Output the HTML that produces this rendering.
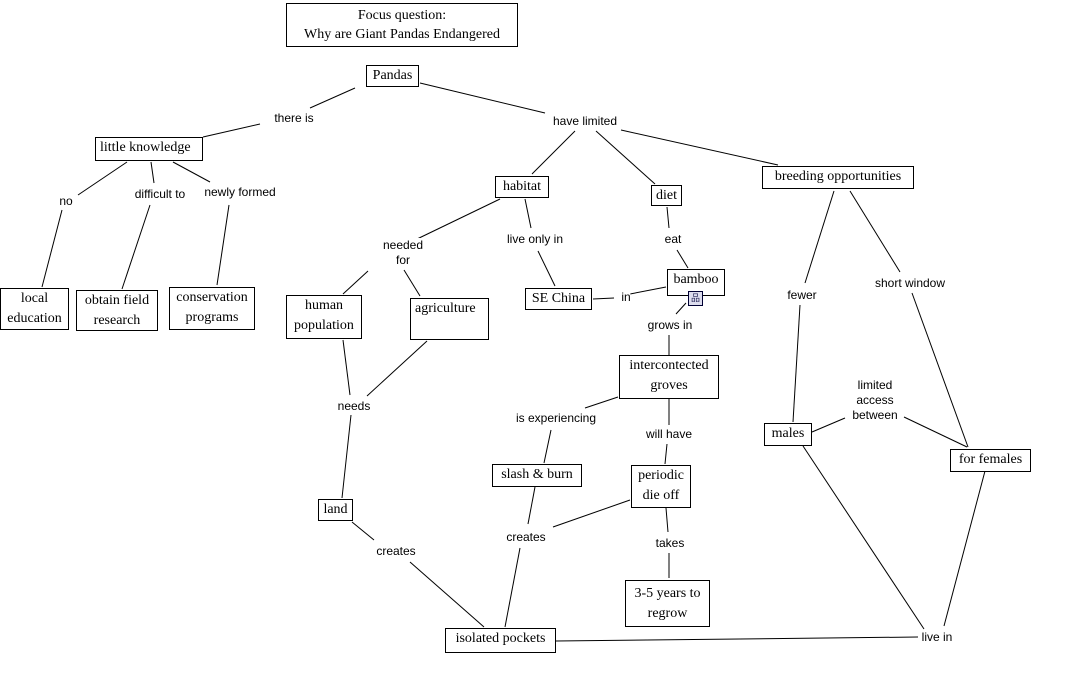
<!DOCTYPE html>
<html><head><meta charset="utf-8"><style>
body{margin:0;background:#fff;width:1071px;height:693px;position:relative;overflow:hidden}
.b{position:absolute;border:1px solid #000;background:#fff;font-family:"Liberation Serif",serif;font-size:14px;line-height:20px;text-align:center;box-sizing:border-box;color:#000;white-space:nowrap}
.l{position:absolute;font-family:"Liberation Sans",sans-serif;font-size:12px;line-height:15px;text-align:center;transform:translateX(-50%);white-space:nowrap;background:#fff;color:#000}
svg{position:absolute;left:0;top:0}
</style></head><body>
<svg width="1071" height="693"><g stroke="#000" stroke-width="1" fill="none">
<line x1="355" y1="88" x2="310" y2="108"/><line x1="260" y1="124" x2="203" y2="137"/>
<line x1="420" y1="83" x2="545" y2="113"/>
<line x1="575" y1="131" x2="532" y2="174"/><line x1="596" y1="131" x2="655" y2="184"/><line x1="621" y1="130" x2="778" y2="165"/>
<line x1="127" y1="162" x2="78" y2="195"/><line x1="62" y1="210" x2="42" y2="287"/>
<line x1="151" y1="162" x2="154" y2="183"/><line x1="150" y1="205" x2="122" y2="289"/>
<line x1="173" y1="162" x2="210" y2="182"/><line x1="229" y1="205" x2="217" y2="285"/>
<line x1="500" y1="199" x2="415" y2="240"/><line x1="368" y1="271" x2="343" y2="294"/><line x1="404" y1="270" x2="420" y2="296"/>
<line x1="525" y1="199" x2="531" y2="228"/><line x1="538" y1="251" x2="555" y2="286"/>
<line x1="667" y1="207" x2="669" y2="228"/><line x1="677" y1="250" x2="688" y2="268"/>
<line x1="593" y1="299" x2="614" y2="298"/><line x1="630" y1="294" x2="666" y2="287"/>
<line x1="686" y1="303" x2="676" y2="314"/><line x1="669" y1="335" x2="669" y2="355"/>
<line x1="618" y1="397" x2="585" y2="408"/><line x1="551" y1="430" x2="544" y2="463"/>
<line x1="669" y1="399" x2="669" y2="425"/><line x1="667" y1="444" x2="665" y2="464"/>
<line x1="630" y1="500" x2="553" y2="527"/><line x1="535" y1="487" x2="528" y2="524"/><line x1="520" y1="548" x2="505" y2="627"/>
<line x1="666" y1="508" x2="668" y2="532"/><line x1="669" y1="553" x2="669" y2="578"/>
<line x1="343" y1="340" x2="350" y2="395"/><line x1="427" y1="341" x2="367" y2="396"/><line x1="351" y1="415" x2="342" y2="498"/>
<line x1="352" y1="522" x2="374" y2="540"/><line x1="410" y1="562" x2="484" y2="627"/>
<line x1="556" y1="641" x2="918" y2="637"/>
<line x1="834" y1="191" x2="805" y2="283"/><line x1="800" y1="305" x2="793" y2="422"/>
<line x1="850" y1="191" x2="900" y2="272"/><line x1="912" y1="293" x2="968" y2="447"/>
<line x1="812" y1="432" x2="845" y2="418"/><line x1="904" y1="417" x2="967" y2="447"/>
<line x1="803" y1="446" x2="924" y2="629"/><line x1="985" y1="471" x2="944" y2="626"/>
</g></svg>
<div class="b" style="left:286px;top:3px;width:232px;height:44px;line-height:19px;padding-top:2px">Focus question:<br>Why are Giant Pandas Endangered</div>
<div class="b" style="left:366px;top:65px;width:53px;height:22px">Pandas</div>
<div class="b" style="left:95px;top:137px;width:108px;height:24px;text-align:left;padding-left:4px">little knowledge</div>
<div class="b" style="left:495px;top:176px;width:54px;height:22px">habitat</div>
<div class="b" style="left:651px;top:185px;width:31px;height:21px">diet</div>
<div class="b" style="left:762px;top:166px;width:152px;height:23px">breeding opportunities</div>
<div class="b" style="left:0px;top:288px;width:69px;height:42px">local<br>education</div>
<div class="b" style="left:76px;top:290px;width:82px;height:41px">obtain field<br>research</div>
<div class="b" style="left:169px;top:287px;width:86px;height:43px">conservation<br>programs</div>
<div class="b" style="left:286px;top:295px;width:76px;height:44px">human<br>population</div>
<div class="b" style="left:410px;top:298px;width:79px;height:42px;text-align:left;padding-left:4px">agriculture</div>
<div class="b" style="left:525px;top:288px;width:67px;height:22px">SE China</div>
<div class="b" style="left:667px;top:269px;width:58px;height:27px">bamboo</div>
<div style="position:absolute;left:688px;top:291px;width:15px;height:15px;border:1px solid #003;background:#dde;box-sizing:border-box;font-size:9px;line-height:13px;text-align:center;color:#225">品</div>
<div class="b" style="left:619px;top:355px;width:100px;height:44px">intercontected<br>groves</div>
<div class="b" style="left:492px;top:464px;width:90px;height:23px">slash &amp; burn</div>
<div class="b" style="left:631px;top:465px;width:60px;height:43px">periodic<br>die off</div>
<div class="b" style="left:625px;top:580px;width:85px;height:47px;padding-top:3px">3-5 years to<br>regrow</div>
<div class="b" style="left:318px;top:499px;width:35px;height:22px">land</div>
<div class="b" style="left:445px;top:628px;width:111px;height:25px">isolated pockets</div>
<div class="b" style="left:764px;top:423px;width:48px;height:23px">males</div>
<div class="b" style="left:950px;top:449px;width:81px;height:23px">for females</div>
<div class="l" style="left:294px;top:111px">there is</div>
<div class="l" style="left:585px;top:114px">have limited</div>
<div class="l" style="left:66px;top:194px">no</div>
<div class="l" style="left:160px;top:187px">difficult to</div>
<div class="l" style="left:240px;top:185px">newly formed</div>
<div class="l" style="left:403px;top:238px">needed<br>for</div>
<div class="l" style="left:535px;top:232px">live only in</div>
<div class="l" style="left:673px;top:232px">eat</div>
<div class="l" style="left:626px;top:290px">in</div>
<div class="l" style="left:670px;top:318px">grows in</div>
<div class="l" style="left:802px;top:288px">fewer</div>
<div class="l" style="left:910px;top:276px">short window</div>
<div class="l" style="left:875px;top:378px">limited<br>access<br>between</div>
<div class="l" style="left:556px;top:411px">is experiencing</div>
<div class="l" style="left:669px;top:427px">will have</div>
<div class="l" style="left:354px;top:399px">needs</div>
<div class="l" style="left:396px;top:544px">creates</div>
<div class="l" style="left:526px;top:530px">creates</div>
<div class="l" style="left:670px;top:536px">takes</div>
<div class="l" style="left:937px;top:630px">live in</div>
</body></html>
